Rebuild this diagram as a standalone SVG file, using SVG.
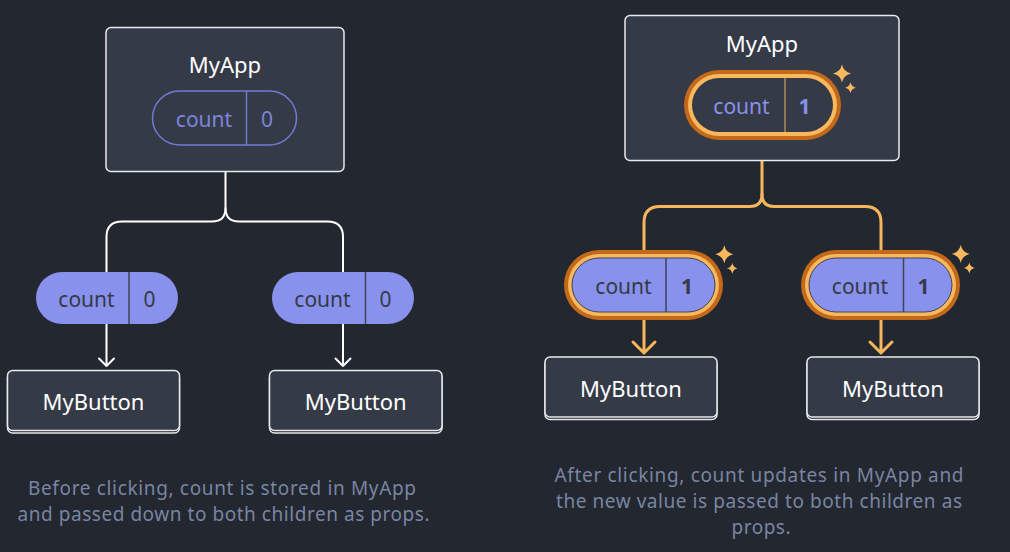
<svg xmlns="http://www.w3.org/2000/svg" width="1010" height="552" viewBox="0 0 1010 552">
<defs>
<style>
.bg{fill:#23272f}
.box{fill:#353a47;stroke:#e8e9ec;stroke-width:1.5}
.shadow{fill:none;stroke:#e8e9ec;stroke-width:1.5}
.title{font-family:"Noto Sans","Open Sans",sans-serif;font-size:22px;fill:#ffffff;text-anchor:middle}
.pt{font-family:"Noto Sans","Open Sans",sans-serif;font-size:21px;text-anchor:middle}
.bold{font-weight:700}
.cap{font-family:"Noto Sans","Open Sans",sans-serif;font-size:19px;fill:#7985a2;text-anchor:middle}
.wline{fill:none;stroke:#ffffff;stroke-width:2;stroke-linecap:round;stroke-linejoin:round}
.oline{fill:none;stroke:#f7b55c;stroke-width:3;stroke-linecap:round;stroke-linejoin:round}
.ring1{fill:#c4681a}
.ring2{fill:#f7b85e}
.spark{fill:#f7b85e}
</style>
<path id="star" d="M0,-9 Q1.6,-1.6 9,0 Q1.6,1.6 0,9 Q-1.6,1.6 -9,0 Q-1.6,-1.6 0,-9Z"/>
</defs>
<rect class="bg" x="0" y="0" width="1010" height="552"/>

<g id="connectors">
<path class="wline" d="M225.5 172 V208 Q225.5 221.5 212 221.5 H122 Q106.5 221.5 106.5 237 V272"/>
<path class="wline" d="M225.5 208 Q225.5 221.5 239 221.5 H327.5 Q343 221.5 343 237 V272"/>
<path class="wline" d="M106.5 324 V366 M99 358.5 L106.5 366 L114 358.5"/>
<path class="wline" d="M343 324 V366 M335.5 358.5 L343 366 L350.5 358.5"/>
<path class="oline" d="M762 161 V194 Q762 206.5 749.5 206.5 H660 Q644 206.5 644 222.5 V250"/>
<path class="oline" d="M762 194 Q762 206.5 774.5 206.5 H865 Q881 206.5 881 222.5 V250"/>
<path class="oline" d="M644 320 V353 M633 342 L644 353 L655 342"/>
<path class="oline" d="M881 320 V353 M870 342 L881 353 L892 342"/>
</g>

<g id="myapp-before">
<rect class="box" x="106" y="27.5" width="238" height="144" rx="5"/>
<text class="title" x="225" y="73">MyApp</text>
<rect x="152.5" y="91" width="144" height="54" rx="27" fill="#353a47" stroke="#7279d4" stroke-width="1.5"/>
<line x1="246.5" y1="91" x2="246.5" y2="145" stroke="#7279d4" stroke-width="1.5"/>
<text class="pt" x="204" y="127" fill="#7d84dc">count</text>
<text class="pt" x="267" y="127" fill="#7d84dc">0</text>
</g>

<g id="prop-before-1">
<rect x="36" y="272" width="142" height="52" rx="26" fill="#8891ec"/>
<line x1="129" y1="272" x2="129" y2="324" stroke="#3f4456" stroke-width="1.5"/>
<text class="pt" x="86.5" y="306.5" fill="#353a47">count</text>
<text class="pt" x="149.5" y="306.5" fill="#353a47">0</text>
</g>

<g id="prop-before-2">
<rect x="272" y="272" width="142" height="52" rx="26" fill="#8891ec"/>
<line x1="365.5" y1="272" x2="365.5" y2="324" stroke="#3f4456" stroke-width="1.5"/>
<text class="pt" x="322.5" y="306.5" fill="#353a47">count</text>
<text class="pt" x="385.5" y="306.5" fill="#353a47">0</text>
</g>

<g id="mybutton-before-1">
<rect class="shadow" x="7.5" y="373" width="172" height="60" rx="5"/>
<rect class="box" x="7.5" y="370.5" width="172" height="60" rx="5"/>
<text class="title" x="93.5" y="410">MyButton</text>
</g>

<g id="mybutton-before-2">
<rect class="shadow" x="269.5" y="373" width="172.5" height="60" rx="5"/>
<rect class="box" x="269.5" y="370.5" width="172.5" height="60" rx="5"/>
<text class="title" x="355.8" y="410">MyButton</text>
</g>

<g id="myapp-after">
<rect class="box" x="625" y="15.5" width="274" height="145" rx="5"/>
<text class="title" x="762" y="52">MyApp</text>
<rect class="ring1" x="684" y="70" width="157" height="70" rx="35"/>
<rect class="ring2" x="688" y="74" width="149" height="62" rx="31"/>
<rect x="692" y="78" width="141" height="54" rx="27" fill="#353a47"/>
<line x1="785" y1="78" x2="785" y2="132" stroke="#b08a55" stroke-width="1.5"/>
<text class="pt" x="741.5" y="113.5" fill="#8891ec">count</text>
<text class="pt bold" x="804.5" y="113.5" fill="#8891ec">1</text>
<use href="#star" class="spark" transform="translate(842,73.5)"/>
<use href="#star" class="spark" transform="translate(850.5,87.7) scale(0.6)"/>
</g>

<g id="prop-after-1">
<rect class="ring1" x="564" y="250" width="159" height="70" rx="35"/>
<rect class="ring2" x="568" y="254" width="151" height="62" rx="31"/>
<rect x="572" y="258" width="143" height="54" rx="27" fill="#8891ec" stroke="#3f4456" stroke-width="1"/>
<line x1="666" y1="258" x2="666" y2="312" stroke="#3f4456" stroke-width="1.5"/>
<text class="pt" x="623.5" y="293.5" fill="#353a47">count</text>
<text class="pt bold" x="687" y="293.5" fill="#353a47">1</text>
<use href="#star" class="spark" transform="translate(724.3,254.3)"/>
<use href="#star" class="spark" transform="translate(732.3,268.3) scale(0.6)"/>
</g>

<g id="prop-after-2">
<rect class="ring1" x="801" y="250" width="159" height="70" rx="35"/>
<rect class="ring2" x="805" y="254" width="151" height="62" rx="31"/>
<rect x="809" y="258" width="143" height="54" rx="27" fill="#8891ec" stroke="#3f4456" stroke-width="1"/>
<line x1="903.5" y1="258" x2="903.5" y2="312" stroke="#3f4456" stroke-width="1.5"/>
<text class="pt" x="860" y="293.5" fill="#353a47">count</text>
<text class="pt bold" x="923.5" y="293.5" fill="#353a47">1</text>
<use href="#star" class="spark" transform="translate(960.7,254)"/>
<use href="#star" class="spark" transform="translate(969.3,268) scale(0.6)"/>
</g>

<g id="mybutton-after-1">
<rect class="shadow" x="545" y="359.5" width="172" height="60" rx="5"/>
<rect class="box" x="545" y="357" width="172" height="60" rx="5"/>
<text class="title" x="631" y="397">MyButton</text>
</g>

<g id="mybutton-after-2">
<rect class="shadow" x="807" y="359.5" width="172" height="60" rx="5"/>
<rect class="box" x="807" y="357" width="172" height="60" rx="5"/>
<text class="title" x="893" y="397">MyButton</text>
</g>

<g id="captions">
<text class="cap" x="222" y="495" textLength="388" lengthAdjust="spacing">Before clicking, count is stored in MyApp</text>
<text class="cap" x="223.5" y="521" textLength="412" lengthAdjust="spacing">and passed down to both children as props.</text>
<text class="cap" x="759" y="482" textLength="409" lengthAdjust="spacing">After clicking, count updates in MyApp and</text>
<text class="cap" x="759" y="507.5" textLength="406" lengthAdjust="spacing">the new value is passed to both children as</text>
<text class="cap" x="761" y="533.5" textLength="59" lengthAdjust="spacing">props.</text>
</g>
</svg>
